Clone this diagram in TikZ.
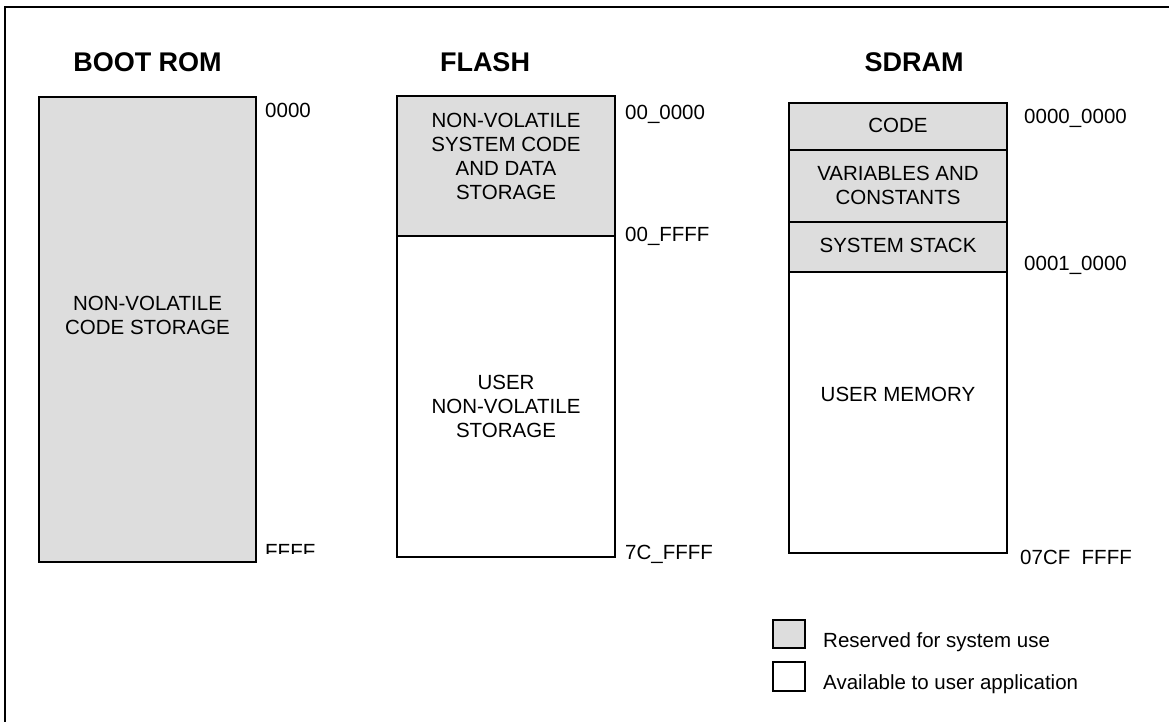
\documentclass[tikz,border=0pt]{standalone}
\usepackage{fontspec}
\setmainfont{Liberation Sans}
\usepackage{xcolor}
\usepackage{tikz}
\definecolor{sysgray}{HTML}{DDDDDD}

\begin{document}
\begin{tikzpicture}[x=1pt, y=-1pt,
    memfont/.style={font=\fontsize{20.5}{24}\selectfont},
    memtitle/.style={font=\fontsize{27}{30}\selectfont\bfseries, inner sep=0pt},
    addr/.style={memfont, anchor=base west, inner sep=0pt},
    blocktext/.style={memfont, align=center, inner sep=0pt},
    reserved/.style={fill=sysgray, draw=black, line width=1.6pt},
    userarea/.style={fill=white, draw=black, line width=1.6pt}]
    \useasboundingbox (0,0) rectangle (1169,721);
    \draw[line width=1.6pt] (5,7) rectangle (1190,740);

    % boot rom
    \node[memtitle] (bootTitle) at (147.5,62) {BOOT ROM};
    \draw[reserved] (39,97) rectangle (256,562);
    \node[blocktext] (bootCode) at (147.5,315) {NON-VOLATILE\\CODE STORAGE};
    \node[addr] (bootStart) at (265,117) {0000};
    \begin{scope}
        \clip (260,530) rectangle (340,553);
        \node[addr] (bootEnd) at (265,558) {FFFF};
    \end{scope}

    % flash
    \node[memtitle] (flashTitle) at (485,62) {FLASH};
    \draw[reserved] (397,96) rectangle (615,236);
    \draw[userarea] (397,236) rectangle (615,557);
    \node[blocktext] (flashSys) at (506,156) {NON-VOLATILE\\SYSTEM CODE\\AND DATA\\STORAGE};
    \node[blocktext] (flashUser) at (506,406) {USER\\NON-VOLATILE\\STORAGE};
    \node[addr] (flashStart) at (625,119) {00\_0000};
    \node[addr] (flashSysEnd) at (625,241) {00\_FFFF};
    \node[addr] (flashEnd) at (625,559) {7C\_FFFF};

    % sdram
    \node[memtitle] (sdramTitle) at (914,62) {SDRAM};
    \draw[reserved] (789,103) rectangle (1007,150);
    \draw[reserved] (789,150) rectangle (1007,222);
    \draw[reserved] (789,222) rectangle (1007,272);
    \draw[userarea] (789,272) rectangle (1007,553);
    \node[blocktext] (sdramCode) at (898,125.5) {CODE};
    \node[blocktext] (sdramVars) at (898,185.5) {VARIABLES AND\\CONSTANTS};
    \node[blocktext] (sdramStack) at (898,245.5) {SYSTEM STACK};
    \node[blocktext] (sdramUser) at (898,394.5) {USER MEMORY};
    \node[addr] (sdramStart) at (1024,123) {0000\_0000};
    \node[addr] (sdramSysEnd) at (1024,270) {0001\_0000};
    \node[addr] (sdramEnd) at (1020,564) {07CF\ \ FFFF};

    % legend
    \draw[reserved, line width=1.2pt] (773,620) rectangle (805,648);
    \draw[userarea, line width=1.2pt] (773,662) rectangle (805,691);
    \node[addr] (legReserved) at (823,647) {Reserved for system use};
    \node[addr] (legUser) at (823,689) {Available to user application};
\end{tikzpicture}
\end{document}
